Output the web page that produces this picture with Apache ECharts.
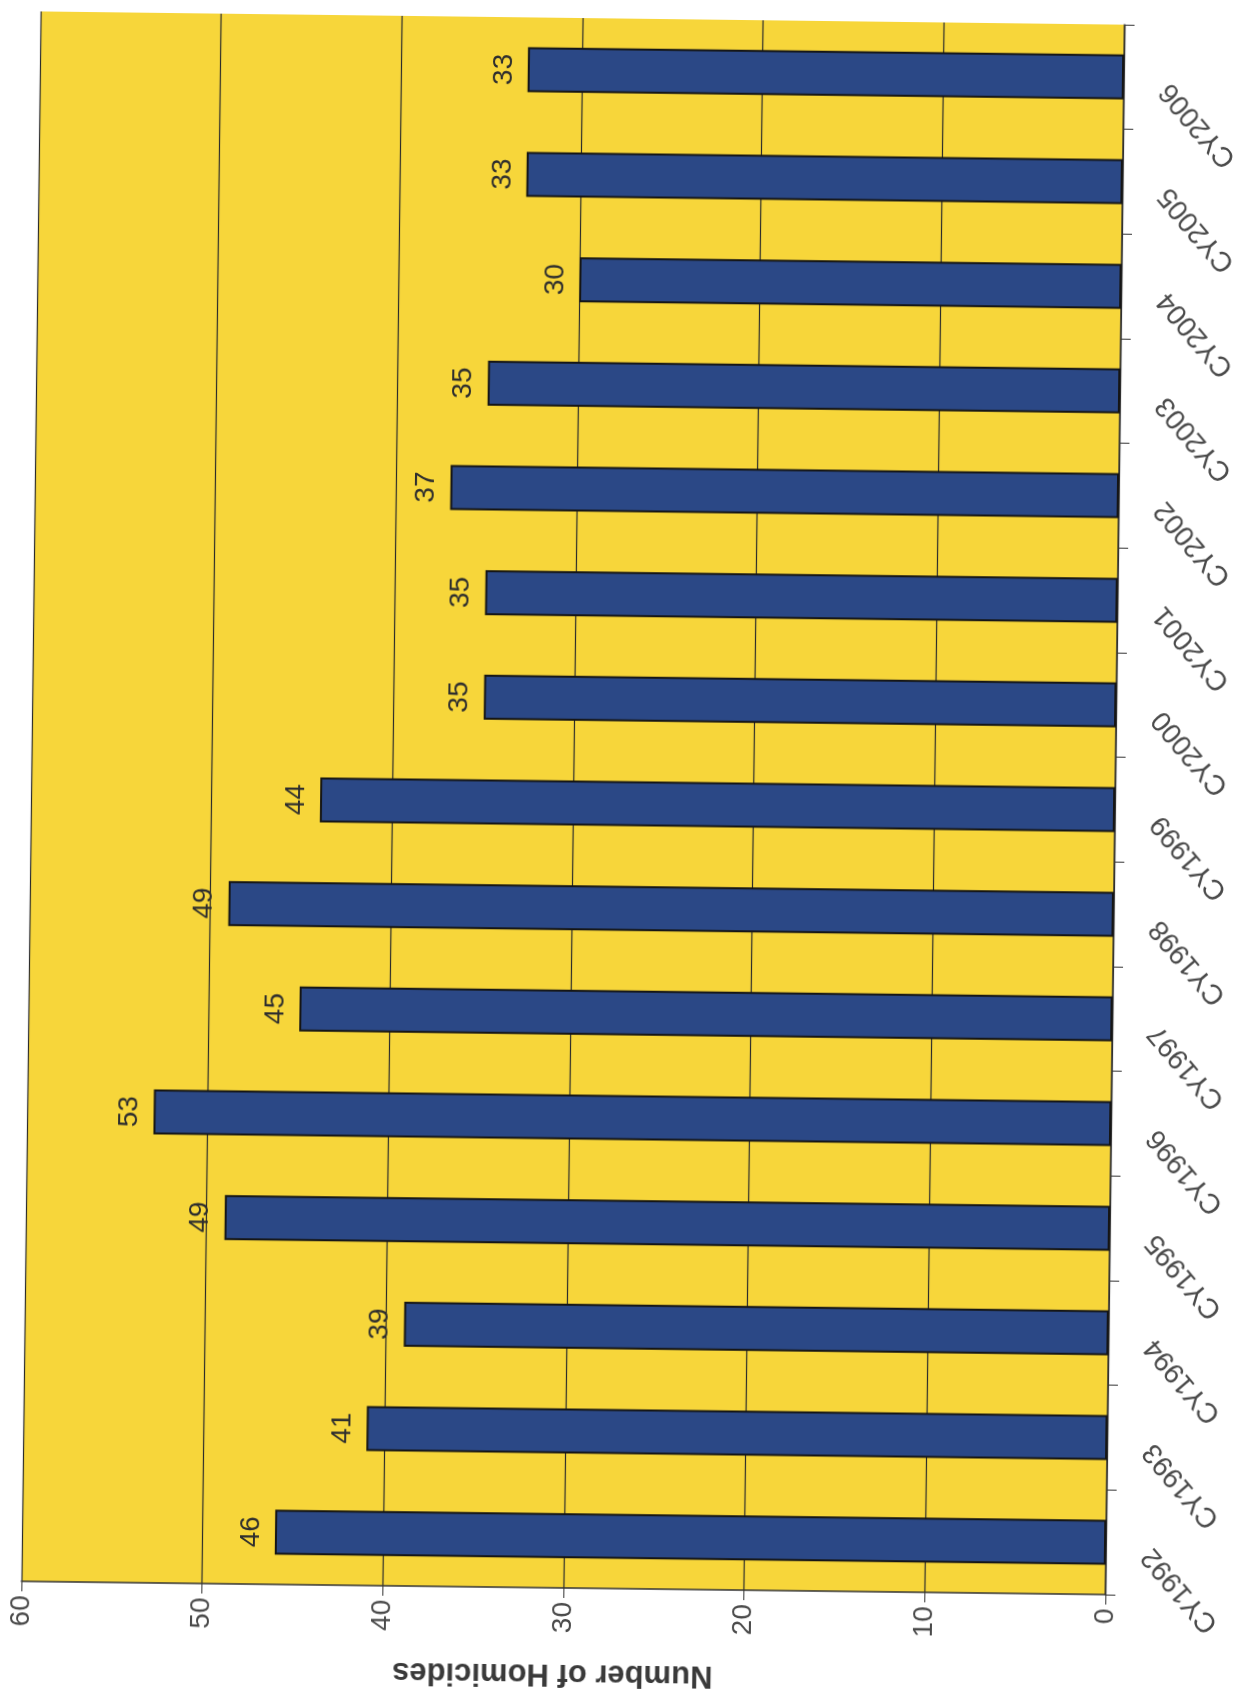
<!DOCTYPE html>
<html>
<head>
<meta charset="utf-8">
<title>Number of Homicides by Calendar Year</title>
<script src="https://cdn.jsdelivr.net/npm/echarts@6/dist/echarts.min.js"></script>
<style>
  html, body { margin: 0; padding: 0; background: #ffffff; }
  #wrap { width: 1243px; height: 1696px; position: relative; overflow: hidden; background: #ffffff; }
  /* the printed page sits slightly askew */
  #chart { width: 1243px; height: 1696px; transform: rotate(0.7deg); transform-origin: 573px 803px; }
</style>
</head>
<body>
<div id="wrap"><div id="chart"></div></div>
<script>
// Calendar years shown on the category axis
const years = ['CY1992', 'CY1993', 'CY1994', 'CY1995', 'CY1996', 'CY1997', 'CY1998',
               'CY1999', 'CY2000', 'CY2001', 'CY2002', 'CY2003', 'CY2004', 'CY2005', 'CY2006'];
// Homicides per year
const homicides = [46, 41, 39, 49, 53, 45, 49, 44, 35, 35, 37, 35, 30, 33, 33];
// Value axis range
const valueMin = 0;
const valueMax = 60;
const valueStep = 10;
const valueTitle = 'Number of Homicides';

const font = '"Liberation Sans", Arial, sans-serif';

const chart = echarts.init(document.getElementById('chart'), null, { renderer: 'canvas' });
chart.setOption({
  animation: false,
  backgroundColor: 'transparent',
  grid: {
    left: 31, right: 128, top: 18, bottom: 108,
    outerBoundsMode: 'none',
    containLabel: false,
    show: true,
    backgroundColor: '#F7D63A',
    borderWidth: 0
  },
  xAxis: {
    type: 'value',
    position: 'bottom',
    inverse: true,
    min: valueMin, max: valueMax, interval: valueStep,
    name: valueTitle,
    nameLocation: 'middle',
    nameRotate: 180,
    nameGap: 70,
    nameTextStyle: { fontFamily: font, fontSize: 31, fontWeight: 'bold', color: '#3a3a3a', padding: [0, 0, 0, 20] },
    axisLine: { show: true, lineStyle: { color: '#333', width: 1.5 } },
    axisTick: { show: true, length: 10, lineStyle: { color: '#333', width: 1 } },
    axisLabel: { rotate: 90, margin: 14, fontFamily: font, fontSize: 28, color: '#4a4a4a' },
    splitLine: { show: true, lineStyle: { color: '#2a2a2a', width: 1.2 } }
  },
  yAxis: {
    type: 'category',
    position: 'right',
    data: years,
    axisLine: { show: true, onZero: false, lineStyle: { color: '#333', width: 1.5 } },
    axisTick: { show: true, length: 10, alignWithLabel: false, lineStyle: { color: '#333', width: 1 } },
    axisLabel: {
      rotate: 131, margin: 52, align: 'right', verticalAlign: 'bottom',
      fontFamily: font, fontSize: 28, color: '#4a4a4a'
    },
    splitLine: { show: false }
  },
  series: [{
    type: 'bar',
    data: homicides,
    barWidth: '43%',
    itemStyle: { color: '#2B4886', borderColor: '#151515', borderWidth: 2 },
    label: {
      show: true,
      position: 'left',
      distance: 10,
      rotate: 90,
      align: 'center',
      verticalAlign: 'bottom',
      fontFamily: font,
      fontSize: 28,
      color: '#2e2e2e'
    }
  }]
});
</script>
</body>
</html>
